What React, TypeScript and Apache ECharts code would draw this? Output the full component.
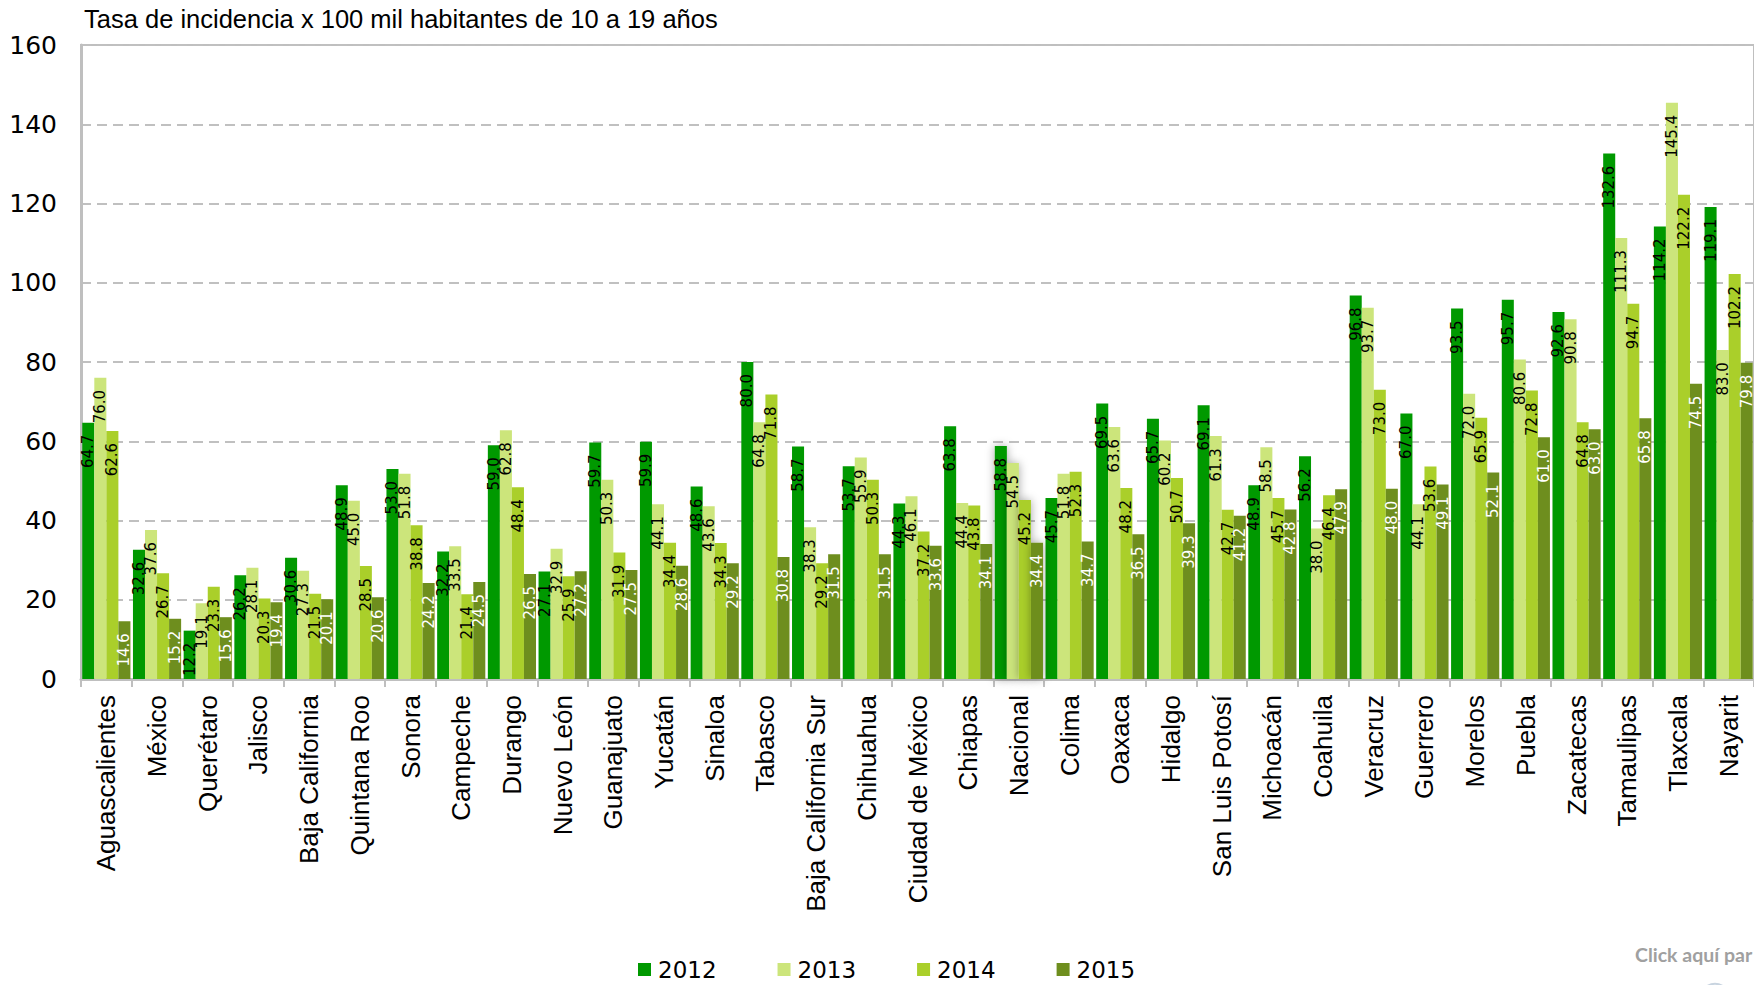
import React, { useEffect, useRef } from "react";
import * as echarts from "echarts";

const categories = [
  "Aguascalientes", "México", "Querétaro", "Jalisco", "Baja California", "Quintana Roo",
  "Sonora", "Campeche", "Durango", "Nuevo León", "Guanajuato", "Yucatán", "Sinaloa",
  "Tabasco", "Baja California Sur", "Chihuahua", "Ciudad de México", "Chiapas", "Nacional",
  "Colima", "Oaxaca", "Hidalgo", "San Luis Potosí", "Michoacán", "Coahuila", "Veracruz",
  "Guerrero", "Morelos", "Puebla", "Zacatecas", "Tamaulipas", "Tlaxcala", "Nayarit",
];

const values2012 = [64.7, 32.6, 12.2, 26.2, 30.6, 48.9, 53.0, 32.2, 59.0, 27.1, 59.7, 59.9, 48.6, 80.0, 58.7, 53.7, 44.3, 63.8, 58.8, 45.7, 69.5, 65.7, 69.1, 48.9, 56.2, 96.8, 67.0, 93.5, 95.7, 92.6, 132.6, 114.2, 119.1];
const values2013 = [76.0, 37.6, 19.1, 28.1, 27.3, 45.0, 51.8, 33.5, 62.8, 32.9, 50.3, 44.1, 43.6, 64.8, 38.3, 55.9, 46.1, 44.4, 54.5, 51.8, 63.6, 60.2, 61.3, 58.5, 38.0, 93.7, 44.1, 72.0, 80.6, 90.8, 111.3, 145.4, 83.0];
const values2014 = [62.6, 26.7, 23.3, 20.3, 21.5, 28.5, 38.8, 21.4, 48.4, 25.9, 31.9, 34.4, 34.3, 71.8, 29.2, 50.3, 37.2, 43.8, 45.2, 52.3, 48.2, 50.7, 42.7, 45.7, 46.4, 73.0, 53.6, 65.9, 72.8, 64.8, 94.7, 122.2, 102.2];
const values2015 = [14.6, 15.2, 15.6, 19.4, 20.1, 20.6, 24.2, 24.5, 26.5, 27.2, 27.5, 28.6, 29.2, 30.8, 31.5, 31.5, 33.6, 34.1, 34.4, 34.7, 36.5, 39.3, 41.2, 42.8, 47.9, 48.0, 49.1, 52.1, 61.0, 63.0, 65.8, 74.5, 79.8];

const seriesNames = ["2012", "2013", "2014", "2015"];
const seriesColors = ["#009900", "#CCE57B", "#AACF2A", "#6E8E1E"];
const labelColors = ["#000000", "#000000", "#000000", "#FFFFFF"];
const yTicks = [0, 20, 40, 60, 80, 100, 120, 140, 160];
const titleText = "Tasa de incidencia x 100 mil habitantes de 10 a 19 años";
const highlighted = "Nacional";

const FONT = "'DejaVu Sans', sans-serif";
const LIB = "'Liberation Sans', sans-serif";

export default function App() {
  const ref = useRef<HTMLDivElement>(null);

  useEffect(() => {
    if (!ref.current) return;
    const chart = echarts.init(ref.current, null, { renderer: "svg" });
    const all = [values2012, values2013, values2014, values2015];

    const series = all.map((vals, i) => ({
      name: seriesNames[i],
      type: "bar",
      barGap: "0%",
      barCategoryGap: "5%",
      itemStyle: { color: seriesColors[i] },
      label: {
        show: true,
        position: "insideTop",
        rotate: 90,
        align: "right",
        verticalAlign: "middle",
        distance: 12,
        fontSize: 15,
        fontFamily: FONT,
        color: labelColors[i],
        formatter: (p: any) => Number(p.value).toFixed(1),
      },
      data: vals.map((v, j) =>
        categories[j] === highlighted
          ? { value: v, itemStyle: { color: seriesColors[i], shadowBlur: 10, shadowColor: "rgba(0,0,0,0.35)" } }
          : v
      ),
    }));

    chart.setOption({
      animation: false,
      backgroundColor: "#ffffff",
      grid: {
        left: 81,
        right: -4,
        top: 45,
        bottom: 306,
        show: true,
        borderColor: "#BFBFBF",
        borderWidth: 2,
        containLabel: false,
      },
      legend: {
        data: seriesNames,
        left: 638,
        top: 958,
        padding: 0,
        icon: "rect",
        itemWidth: 13,
        itemHeight: 13,
        itemGap: 61,
        textStyle: { fontSize: 23, lineHeight: 19, fontFamily: FONT, color: "#000", padding: [0, 0, 0, 2] },
      },
      xAxis: {
        type: "category",
        data: categories,
        axisLine: { show: true, lineStyle: { color: "#BFBFBF", width: 3 } },
        axisTick: { show: true, alignWithLabel: false, length: 8, lineStyle: { color: "#BFBFBF", width: 2 } },
        axisLabel: {
          interval: 0,
          rotate: 90,
          margin: 16,
          fontSize: 26,
          fontFamily: LIB,
          color: "#000",
        },
      },
      yAxis: {
        type: "value",
        min: yTicks[0],
        max: yTicks[yTicks.length - 1],
        interval: 20,
        axisLine: { show: true, lineStyle: { color: "#BFBFBF", width: 3 } },
        axisTick: { show: false },
        axisLabel: { fontSize: 25, fontFamily: FONT, color: "#000", margin: 24 },
        splitLine: { show: true, lineStyle: { color: "#C0C0C0", width: 2, type: [10, 6] } },
      },
      graphic: [
        {
          type: "text",
          left: 84,
          top: 6,
          style: { text: titleText, fontSize: 25.5, fontFamily: LIB, fill: "#000" },
        },
        {
          type: "text",
          left: 1635,
          top: 944,
          style: { text: "Click aquí par", fontSize: 19.5, fontWeight: "bold", fontFamily: "Lato, sans-serif", fill: "#A0A0A0" },
        },
        {
          type: "circle",
          shape: { cx: 1715, cy: 1000, r: 16 },
          style: { fill: "#ffffff", stroke: "#C8D4E0", lineWidth: 2 },
        },
      ],
      series,
    });

    return () => chart.dispose();
  }, []);

  return (
    <div
      ref={ref}
      style={{ position: "fixed", left: 0, top: 0, width: 1754, height: 985, background: "#fff" }}
    />
  );
}
